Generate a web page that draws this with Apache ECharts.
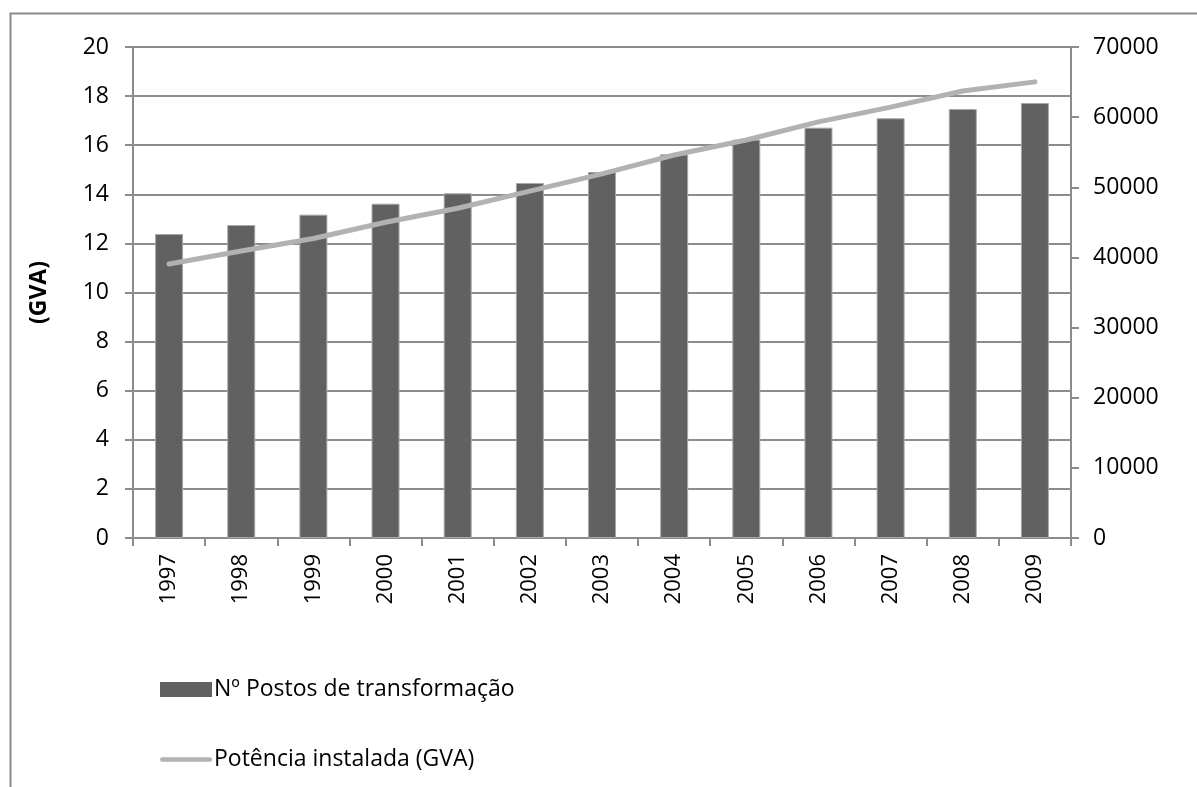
<!DOCTYPE html>
<html>
<head>
<meta charset="utf-8">
<script src="https://cdn.jsdelivr.net/npm/echarts@6/dist/echarts.min.js"></script>
<style>
  html, body { margin: 0; padding: 0; background: #fff; }
  #chart { width: 1197px; height: 787px; }
</style>
</head>
<body>
<div id="chart"></div>
<script>
const years = ["1997", "1998", "1999", "2000", "2001", "2002", "2003", "2004", "2005", "2006", "2007", "2008", "2009"];
// Nº Postos de transformação (right axis)
const postos = [43340, 44620, 46100, 47660, 49140, 50610, 52180, 54700, 56790, 58500, 59840, 61160, 62020];
// Potência instalada (GVA) (left axis)
const potencia = [11.16, 11.69, 12.2, 12.86, 13.43, 14.13, 14.83, 15.6, 16.21, 16.95, 17.55, 18.21, 18.58];

const FONT = "Open Sans";
const FS = 23;
const gridColor = "#8c8c8c";

var myChart = echarts.init(document.getElementById("chart"), null, { renderer: "canvas" });

const option = {
  animation: false,
  backgroundColor: "#fff",
  textStyle: { fontFamily: FONT, color: "#000" },
  graphic: [
    {
      type: "rect",
      shape: { x: 10.5, y: 13.5, width: 1250, height: 850 },
      style: { fill: "none", stroke: "#8a8a8a", lineWidth: 2 },
      silent: true,
    },
  ],
  grid: { left: 133, right: 126, top: 47, bottom: 249 },
  legend: {
    orient: "vertical",
    left: 155,
    top: 673,
    itemGap: 47,
    itemWidth: 52,
    itemHeight: 15,
    textStyle: { fontFamily: FONT, fontSize: FS, color: "#000", padding: [0, 0, 0, -3] },
    data: [
      { name: "Nº Postos de transformação", icon: "rect", itemStyle: { borderWidth: 0 } },
      { name: "Potência instalada (GVA)", icon: "path://M2,0 L54,0 A2.5,2.5 0 0 1 54,5 L2,5 A2.5,2.5 0 0 1 2,0 Z" },
    ],
  },
  xAxis: {
    type: "category",
    data: years,
    axisLine: { lineStyle: { color: gridColor, width: 2 } },
    axisTick: { show: true, length: 8, lineStyle: { color: gridColor, width: 2 } },
    axisLabel: { rotate: 90, fontSize: 22, color: "#000", margin: 16, fontFamily: FONT },
  },
  yAxis: [
    {
      type: "value",
      min: 0,
      max: 20,
      interval: 2,
      name: "(GVA)",
      nameLocation: "middle",
      nameGap: 82,
      nameTextStyle: { fontWeight: "bold", fontSize: FS, fontFamily: FONT, color: "#000" },
      axisLine: { show: true, lineStyle: { color: gridColor, width: 2 } },
      axisTick: { show: true, length: 8, lineStyle: { color: gridColor, width: 2 } },
      axisLabel: { fontSize: FS, color: "#000", margin: 24, fontFamily: FONT },
      splitLine: { show: true, lineStyle: { color: gridColor, width: 2 } },
    },
    {
      type: "value",
      min: 0,
      max: 70000,
      interval: 10000,
      position: "right",
      axisLine: { show: true, lineStyle: { color: gridColor, width: 2 } },
      axisTick: { show: true, length: 8, lineStyle: { color: gridColor, width: 2 } },
      axisLabel: {
        fontSize: FS,
        color: "#000",
        margin: 22,
        fontFamily: FONT,
        formatter: function (v) { return String(v); },
      },
      splitLine: { show: false },
    },
  ],
  series: [
    {
      name: "Nº Postos de transformação",
      type: "bar",
      yAxisIndex: 1,
      barWidth: 28,
      data: postos,
      itemStyle: { color: "#616161", borderColor: "#a8a8a8", borderWidth: 1 },
      z: 2,
    },
    {
      name: "Potência instalada (GVA)",
      type: "line",
      yAxisIndex: 0,
      data: potencia,
      symbol: "none",
      lineStyle: { color: "#b2b2b2", width: 5, cap: "round" },
      itemStyle: { color: "#b2b2b2" },
      z: 3,
    },
  ],
};

option && myChart.setOption(option);
</script>
</body>
</html>
